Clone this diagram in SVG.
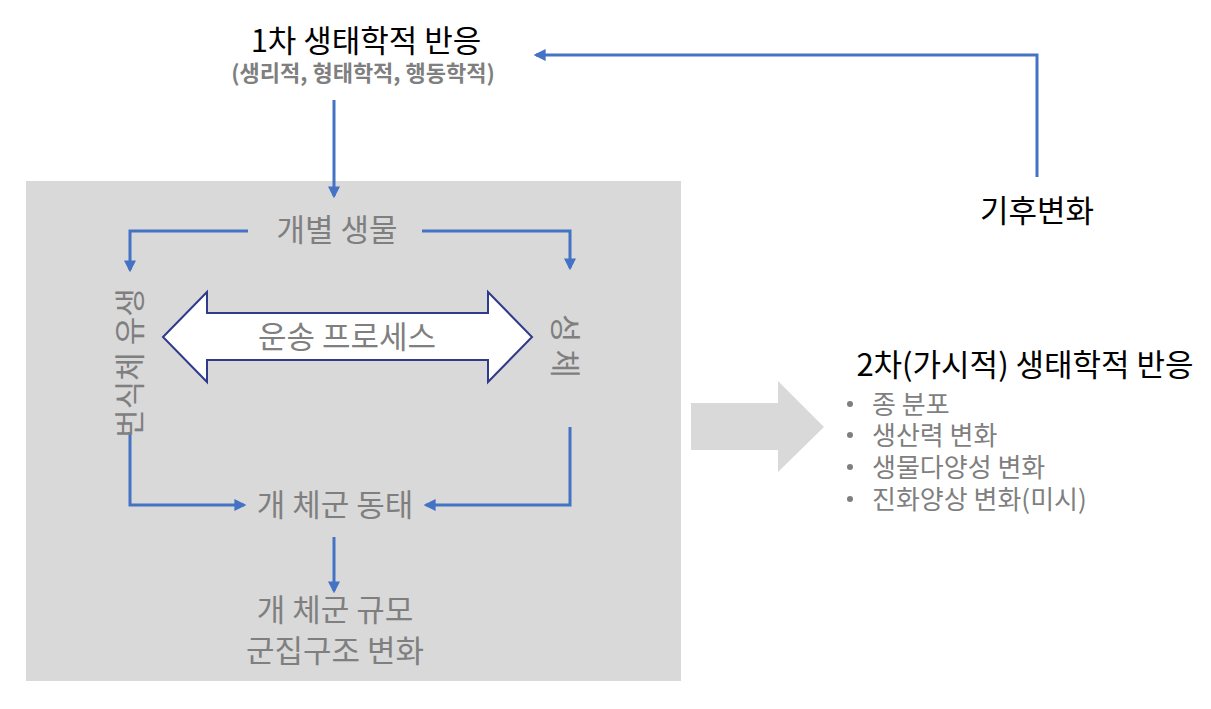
<svg xmlns="http://www.w3.org/2000/svg" width="1211" height="709" viewBox="0 0 1211 709">
<defs>
<style>
.t{font-family:"Noto Sans CJK KR","Noto Sans",sans-serif;}
.blk{fill:#000;font-size:31px;}
.gry{fill:#7f7f7f;font-size:31px;}
.sub{fill:#7f7f7f;font-size:22px;font-weight:bold;}
.lst{fill:#7f7f7f;font-size:26px;}
.con{fill:none;stroke:#4472c4;stroke-width:3;}
</style>
<marker id="ah" viewBox="0 0 10 10" refX="8" refY="5" markerWidth="4" markerHeight="4" orient="auto" markerUnits="strokeWidth">
<path d="M0,0 L10,5 L0,10 z" fill="#4472c4"/>
</marker>
</defs>
<rect width="1211" height="709" fill="#fff"/>
<g id="panel"><rect x="26" y="181" width="655" height="500" fill="#d9d9d9"/></g>

<g id="connectors">
<path class="con" d="M334,100 V196" marker-end="url(#ah)"/>
<path class="con" d="M1037,177 V55 H536" marker-end="url(#ah)"/>
<path class="con" d="M248,231 H130 V270" marker-end="url(#ah)"/>
<path class="con" d="M422,231 H570 V268" marker-end="url(#ah)"/>
<path class="con" d="M130,432 V505 H244" marker-end="url(#ah)"/>
<path class="con" d="M570,427 V505 H426" marker-end="url(#ah)"/>
<path class="con" d="M334,537 V591" marker-end="url(#ah)"/>
</g>

<g id="primary">
<text class="t blk" x="366" y="52" text-anchor="middle">1차 생태학적 반응</text>
<text class="t sub" x="363" y="81" text-anchor="middle">(생리적, 형태학적, 행동학적)</text>
</g>
<g id="climate"><text class="t blk" x="1037" y="222" text-anchor="middle">기후변화</text></g>
<g id="individual"><text class="t gry" x="337" y="241" text-anchor="middle">개별 생물</text></g>
<g id="larvae"><text class="t gry" transform="translate(141,363) rotate(-90)" text-anchor="middle">번식체 유생</text></g>
<g id="adult"><text class="t gry" transform="translate(554,346) rotate(90)" text-anchor="middle">성 체</text></g>
<g id="transport">
<path d="M163,337 L207,292 V313 H488 V292 L532,337 L488,382 V360 H207 V382 Z" fill="#fff" stroke="#2f3b8a" stroke-width="2"/>
<text class="t gry" x="347" y="348" text-anchor="middle">운송 프로세스</text>
</g>
<g id="dynamics"><text class="t gry" x="335" y="516" text-anchor="middle">개 체군 동태</text></g>
<g id="scale">
<text class="t gry" x="335" y="621" text-anchor="middle">개 체군 규모</text>
<text class="t gry" x="335" y="662" text-anchor="middle">군집구조 변화</text>
</g>
<g id="bigarrow"><path d="M691,403 H778 V381 L824,427 L778,472 V450 H691 Z" fill="#d9d9d9"/></g>
<g id="secondary">
<text class="t blk" x="1025" y="376" text-anchor="middle">2차(가시적) 생태학적 반응</text>
<g fill="#7f7f7f"><circle cx="850" cy="404" r="3"/><circle cx="850" cy="435" r="3"/><circle cx="850" cy="467" r="3"/><circle cx="850" cy="499" r="3"/></g>
<text class="t lst" x="872" y="414">종 분포</text>
<text class="t lst" x="872" y="445">생산력 변화</text>
<text class="t lst" x="872" y="477">생물다양성 변화</text>
<text class="t lst" x="872" y="509">진화양상 변화(미시)</text>
</g>
</svg>
